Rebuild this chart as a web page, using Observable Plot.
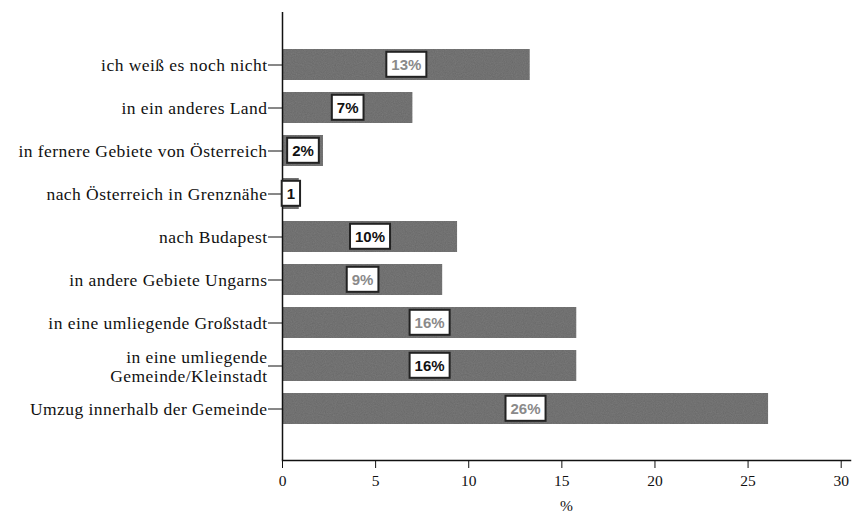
<!DOCTYPE html>
<html>
<head>
<meta charset="utf-8">
<script src="https://cdn.jsdelivr.net/npm/d3@7"></script>
<script src="https://cdn.jsdelivr.net/npm/@observablehq/plot@0.6"></script>
<style>
  html, body { margin: 0; padding: 0; background: #fff; }
  #chart svg { display: block; }
  .yax text { letter-spacing: 0.45px; }
</style>
</head>
<body>
<div id="chart"></div>
<script>
const categories = [
  "ich weiß es noch nicht",
  "in ein anderes Land",
  "in fernere Gebiete von Österreich",
  "nach Österreich in Grenznähe",
  "nach Budapest",
  "in andere Gebiete Ungarns",
  "in eine umliegende Großstadt",
  "in eine umliegende\nGemeinde/Kleinstadt",
  "Umzug innerhalb der Gemeinde"
];
const values = [13.3, 7.0, 2.2, 0.9, 9.4, 8.6, 15.8, 15.8, 26.1];
const labels = ["13%", "7%", "2%", "1", "10%", "9%", "16%", "16%", "26%"];
const labelTone = ["gray", "black", "black", "black", "black", "gray", "gray", "black", "gray"];
const xTicks = [0, 5, 10, 15, 20, 25, 30];

const data = categories.map((c, i) => ({category: c, value: values[i], label: labels[i], tone: labelTone[i]}));

const chart = Plot.plot({
  width: 858,
  height: 514,
  marginLeft: 282,
  marginRight: 8,
  marginTop: 12,
  marginBottom: 54,
  style: {fontFamily: "Liberation Serif, serif", background: "#fff"},
  x: {domain: [0, 30.5]},
  y: {domain: categories, range: [35, 438], padding: 0.28},
  marks: [
    Plot.barX(data, {y: "category", x: "value", fill: "#7a7a7a", className: "bars"}),
    Plot.axisY({tickSize: 14, tickPadding: 1, fontSize: 17.5, lineHeight: 1.08, stroke: "#111", color: "#111", label: null, className: "yax"}),
    Plot.axisX({ticks: xTicks, tickSize: 8, tickPadding: 6, fontSize: 15.5, color: "#111", label: "%", labelAnchor: "center", labelArrow: "none", labelOffset: 50}),
    Plot.ruleX([0], {stroke: "#111", strokeWidth: 1.5}),
    Plot.frame({anchor: "bottom", stroke: "#111", strokeWidth: 1.5}),
    Plot.text(data, {
      y: "category",
      x: d => d.value / 2,
      text: "label",
      fill: d => d.tone === "gray" ? "#8a8a8a" : "#111",
      fontFamily: "Liberation Sans, Arial, sans-serif",
      fontWeight: "bold",
      fontSize: 15,
      className: "vlabels"
    })
  ]
});

document.getElementById("chart").appendChild(chart);

// white boxes behind value labels
const svg = d3.select(chart);
svg.selectAll(".vlabels text").each(function() {
  const b = this.getBBox();
  const padX = 5, padY = 4;
  const parent = this.parentNode;
  const r = document.createElementNS("http://www.w3.org/2000/svg", "rect");
  r.setAttribute("x", b.x - padX);
  r.setAttribute("y", b.y - padY);
  r.setAttribute("width", b.width + 2 * padX);
  r.setAttribute("height", b.height + 2 * padY);
  r.setAttribute("fill", "#fff");
  r.setAttribute("stroke", "#222");
  r.setAttribute("stroke-width", 2);
  if (this.getAttribute("transform")) r.setAttribute("transform", this.getAttribute("transform"));
  parent.insertBefore(r, this);
});

// subtle print-like noise on bars
const defs = svg.insert("defs", ":first-child");
const f = defs.append("filter").attr("id", "grain").attr("x", 0).attr("y", 0).attr("width", 1).attr("height", 1);
f.append("feTurbulence").attr("type", "fractalNoise").attr("baseFrequency", 0.9).attr("numOctaves", 2).attr("seed", 3).attr("result", "noise");
f.append("feColorMatrix").attr("in", "noise").attr("type", "matrix")
  .attr("values", "0 0 0 0 0  0 0 0 0 0  0 0 0 0 0  0 0 0 0.3 0").attr("result", "dark");
f.append("feComposite").attr("in", "dark").attr("in2", "SourceGraphic").attr("operator", "in").attr("result", "darkIn");
f.append("feMerge").call(m => { m.append("feMergeNode").attr("in", "SourceGraphic"); m.append("feMergeNode").attr("in", "darkIn"); });
svg.selectAll(".bars rect").attr("filter", "url(#grain)");
</script>
</body>
</html>
